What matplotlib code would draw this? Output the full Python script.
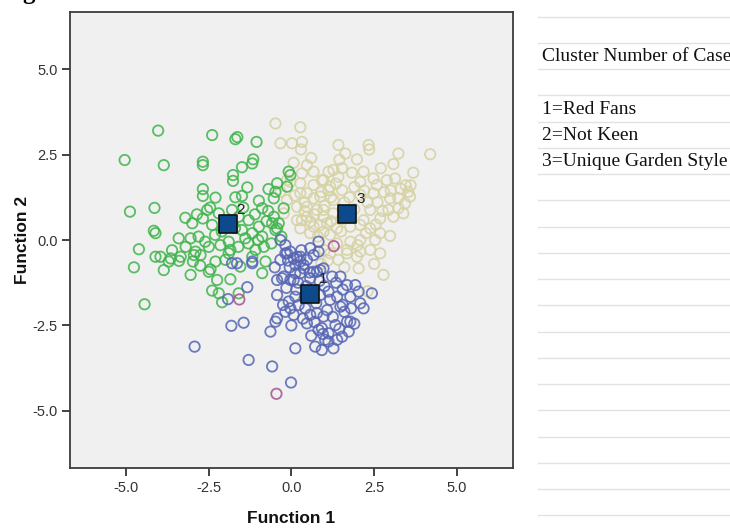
import numpy as np
import matplotlib
matplotlib.use('Agg')
import matplotlib.pyplot as plt
from matplotlib.lines import Line2D

plt.rcParams['font.family'] = ['Liberation Sans', 'DejaVu Sans']

# cluster 1 = Red Fans (blue), 2 = Not Keen (green), 3 = Unique Garden Style (tan)
green_pts = [(-4.02,3.20),(-2.39,3.07),(-1.69,2.95),(-1.63,3.01),(-1.05,2.87),(-5.03,2.34),(-3.85,2.19),(-2.67,2.29),
             (-2.67,2.19),(-1.49,2.13),(-1.18,2.24),(-1.15,2.36),(-1.76,1.90),(-1.76,1.73),(-2.67,1.49),(-2.67,1.29),
             (-2.29,1.24),(-1.33,1.54),(-1.69,1.25),(-1.49,1.29),(-0.69,1.49),(-0.48,1.41),(-0.98,1.15),(-0.88,0.93),
             (-4.87,0.83),(-4.13,0.94),(-4.15,0.27),(-4.10,0.20),(-4.60,-0.27),(-4.10,-0.49),
             (-2.99,0.49),(-2.67,0.63),(-2.54,0.88),(-2.39,0.44),(-2.19,0.78),(-1.79,0.88),(-1.59,0.68),(-1.29,0.58),
             (-1.49,0.29),(-1.18,0.20),(-0.98,0.39),(-0.88,0.10),(-0.58,0.49),(-0.48,0.29),(-0.83,-0.20),(-1.08,-0.29),
             (-1.39,0.05),(-3.04,0.05),(-3.19,-0.20),(-2.89,-0.34),(-2.49,-0.20),(-2.14,-0.15),(-1.89,-0.05),(-1.84,-0.29),
             (-3.95,-0.49),(-3.64,-0.54),(-3.34,-0.49),
             (-4.75,-0.80),(-3.85,-0.88),(-3.70,-0.63),(-3.39,-0.61),(-3.04,-1.02),(-2.97,-0.63),(-2.94,-0.44),(-2.74,-0.44),
             (-2.49,-0.93),(-2.44,-0.86),(-2.29,-0.63),(-1.99,-0.58),(-1.89,-0.39),(-2.24,-1.17),(-1.84,-1.15),(-2.39,-1.48),
             (-2.19,-1.56),(-2.09,-1.82),(-1.59,-1.56),(-4.43,-1.88),(-1.54,-0.78),(-1.18,-0.49),(-0.88,-0.97),(-0.78,-0.63),
             (-0.08,2.00),(-0.03,1.90),(-0.43,1.66),(-0.13,1.56),(-0.53,1.22),(-0.23,0.93),(-0.53,0.68),(-0.38,0.49),(-0.43,0.34),
             (-2.8,0.1),(-2.3,0.15),(-1.7,0.35),(-1.3,-0.1),(-2.6,-0.05),(-1.95,0.55),(-1.45,0.95),(-2.85,0.75),(-3.4,0.05),
             (-3.6,-0.3),(-1.1,0.75),(-0.7,0.85),(-0.75,0.55),(-0.3,0.1),(-0.6,-0.1),
             (-2.1,0.25),(-2.45,0.95),(-1.6,-0.2),(-2.75,-0.75),(-3.2,0.65),(-1.0,0.0)]

blue_pts = [(-0.13,-0.39),(0.07,-0.54),(0.27,-0.49),(0.47,-0.58),(0.67,-0.44),(0.82,-0.34),
            (-0.28,-1.12),(-0.03,-1.17),(0.12,-0.97),(0.37,-0.83),(0.67,-0.93),(0.87,-0.88),(1.23,-1.07),(1.48,-1.07),
            (1.68,-1.32),(1.93,-1.32),(2.03,-1.51),(2.43,-1.56),
            (-0.43,-1.61),(-0.08,-1.80),(0.12,-1.66),(0.22,-1.90),(0.87,-1.61),(1.12,-1.51),(1.17,-1.75),(1.38,-1.66),
            (1.78,-1.66),(2.08,-1.85),(2.18,-2.00),(1.48,-1.95),(1.08,-2.05),(0.77,-2.14),(0.97,-2.24),
            (-0.18,-2.10),(-0.43,-2.29),(-0.48,-2.39),(-0.63,-2.68),(-0.03,-2.00),(0.07,-2.19),(0.42,-2.00),(0.57,-2.19),
            (0.47,-2.44),(0.82,-2.63),(0.92,-2.58),(1.12,-2.73),(1.33,-2.49),(1.68,-2.39),(1.78,-2.39),(1.73,-2.68),
            (1.53,-2.83),(1.38,-2.92),(1.12,-2.97),(1.02,-2.92),(0.72,-3.12),(0.92,-3.22),(1.27,-3.17),
            (0.12,-3.17),(-0.58,-3.70),(-0.01,-4.17),
            (-1.79,-0.68),(-1.64,-0.68),(-1.18,-0.68),(-1.33,-1.38),(-1.91,-1.73),(-1.81,-2.51),(-1.44,-2.42),
            (-2.92,-3.12),(-1.29,-3.51),
            (-0.33,0.0),(-0.18,-0.15),(-0.03,-0.34),(0.17,-0.49),(0.27,-0.63),(0.37,-0.73),(0.12,-0.73),(-0.18,-0.39),
            (-0.33,-0.58),(-0.43,-1.17),(-0.23,-1.07),(0.07,-1.17),(0.27,-0.97),(0.57,-1.12),(0.77,-0.93),(0.97,-0.83),
            (0.57,-0.24),(0.82,-0.05),(-1.18,-0.63),
            (0.45,-1.35),(0.6,-1.6),(0.35,-2.3),(0.7,-2.4),(1.0,-1.35),(1.35,-1.25),(0.15,-1.45),(-0.15,-1.4),
            (1.6,-2.1),(1.9,-2.45),(0.55,-0.95),(-0.05,-0.8),(0.95,-2.75),(1.55,-1.9),
            (0.2,-1.25),(0.4,-1.7),(0.75,-1.85),(1.25,-2.25),(0.6,-2.8),(-0.25,-1.9),(0.0,-2.5),(1.55,-1.45),
            (0.85,-1.2),(-0.1,-0.6),(0.3,-0.3),(1.8,-2.0),(1.45,-2.6),(-0.5,-0.8)]

tan_pts = [(-0.48,3.41),(0.27,3.30),(-0.33,2.83),(0.02,2.83),(0.32,2.87),(0.29,2.65),(1.42,2.78),(1.63,2.53),
           (2.33,2.78),(2.35,2.65),(1.98,2.36),(3.23,2.53),(3.08,2.22),(4.19,2.51),(3.68,1.97),
           (0.07,2.26),(0.47,2.19),(0.32,1.95),(-0.03,1.70),(-0.33,1.41),
           (1.12,2.00),(1.53,2.10),(1.83,1.97),(2.18,2.00),(1.42,1.85),(0.97,1.75),(0.67,1.61),(1.12,1.46),(1.53,1.46),
           (2.08,1.70),(2.48,1.80),(2.58,1.61),(2.88,1.75),(3.13,1.80),(2.08,1.32),(2.48,1.37),
           (2.98,1.22),(3.23,1.22),(3.53,1.41),(3.58,1.27),(3.43,1.07),(3.23,0.93),(3.38,0.78),(3.08,0.68),(2.93,0.88),(2.68,0.63),
           (0.27,1.37),(0.67,1.22),(0.47,0.97),(0.77,0.88),(0.97,0.68),(1.27,0.78),(0.87,0.44),(0.57,0.54),(0.32,0.58),
           (0.27,0.34),(0.57,0.20),(0.97,0.24),(1.17,0.15),(1.38,0.34),(1.78,0.39),(2.08,0.44),(2.18,0.58),(2.38,0.88),
           (2.38,0.34),(2.68,0.20),(2.98,0.12),(2.53,0.0),(2.08,0.0),(1.78,-0.05),(1.38,-0.10),(1.68,-0.29),(2.08,-0.34),
           (2.38,-0.29),(2.68,-0.39),(1.98,-0.49),
           (1.17,-0.39),(1.42,-0.58),(1.68,-0.39),(2.03,-0.83),(2.78,-1.02),(2.3,-1.5),
           (-0.13,1.75),(0.27,1.66),(0.67,2.00),(0.92,1.75),(1.27,2.05),(1.17,1.56),(0.47,1.37),(0.87,1.27),(1.27,1.17),
           (-0.13,1.17),(0.17,0.97),(-0.23,0.78),(0.17,0.58),(0.47,0.68),(0.67,0.39),(1.08,0.49),(0.97,0.88),
           (1.9,0.9),(1.6,1.1),(2.3,1.1),(0.8,0.1),(1.5,0.6),(2.8,1.4),(3.3,1.5),(1.0,1.0),(1.9,1.55),
           (1.0,-0.3),(1.1,-0.6),(0.9,-0.7),
           (0.4,1.1),(0.9,1.4),(1.35,1.65),(1.75,1.25),(2.2,1.45),(2.6,1.1),(2.75,0.85),(3.0,1.45),(3.45,1.6),
           (1.5,0.25),(1.8,0.7),(2.25,0.2),(0.7,0.75),(1.2,0.55),(0.4,0.85),(2.55,0.45),(1.45,2.35),(0.6,2.4),
           (2.7,2.1),(3.6,1.6),(2.0,-0.15),(1.2,1.25),(0.1,1.3),(2.5,-0.7),(1.6,-0.8)]

ungrouped_pts = [(1.28,-0.18),(-1.57,-1.74),(-0.45,-4.50)]

centroid_labels = ['1', '2', '3']
centroid_x = [0.56, -1.92, 1.69]
centroid_y = [-1.58, 0.46, 0.76]

legend_title = 'Cluster Number of Case'
legend_items = ['1=Red Fans', '2=Not Keen', '3=Unique Garden Style']

fig = plt.figure(figsize=(7.3, 5.3), dpi=100)
ax = fig.add_axes([70/730, 1-468.3/530, 442.7/730, 456.6/530])
ax.set_facecolor('#f0f0f0')

def draw(pts, color):
    a = np.array(pts)
    ax.scatter(a[:, 0], a[:, 1], s=56, facecolors='none', edgecolors=color, linewidths=1.3, alpha=0.85, zorder=2)

draw(tan_pts, '#d6d2a2')
draw(green_pts, '#3fb44a')
draw(blue_pts, '#5565b5')
draw(ungrouped_pts, '#a8508f')

ax.scatter(centroid_x, centroid_y, s=150, marker='s', color='#0d4a8c', edgecolors='#111111', linewidths=1.2, zorder=4)
for lab, cx, cy in zip(centroid_labels, centroid_x, centroid_y):
    ax.annotate(lab, (cx, cy), xytext=(9.5, 10.5), textcoords='offset points',
                ha='center', va='center', fontsize=11, color='#222222', zorder=5)

ax.set_xlim(-6.68, 6.68)
ax.set_ylim(-6.68, 6.68)
ticks = [-5.0, -2.5, 0.0, 2.5, 5.0]
ax.set_xticks(ticks)
ax.set_yticks(ticks)
ax.set_xticklabels(['%.1f' % t for t in ticks])
ax.set_yticklabels(['%.1f' % t for t in ticks])
ax.tick_params(direction='out', length=6, width=1.3, color='#333333', labelsize=10.5, labelcolor='#333333', pad=3)
for sp in ax.spines.values():
    sp.set_color('#3c3c3c')
    sp.set_linewidth(1.3)

ax.set_xlabel('Function 1', fontsize=12.5, fontweight='bold', color='#111111', va='center')
ax.set_ylabel('Function 2', fontsize=12.5, fontweight='bold', color='#111111', va='center')
ax.xaxis.set_label_coords(0.5, -0.111)
ax.yaxis.set_label_coords(-0.108, 0.5)

# table-like legend on the right
for k in range(20):
    yy = 1 - (16.7 + 26.24 * k) / 530
    fig.add_artist(Line2D([538/730, 1.0], [yy, yy], color='#e2e2e2', linewidth=1.0))

fig.text(542/730, 1 - 56.3/530, legend_title, family='Liberation Serif', fontsize=14, va='center', color='#111111')
for i, item in enumerate(legend_items):
    fig.text(542/730, 1 - (109 + 26.24 * i)/530, item, family='Liberation Serif', fontsize=14, va='center', color='#111111')

# clipped caption letter at the very top
fig.text(22/730, 1 + 1/530, 'g', family='Liberation Serif', fontweight='bold', fontsize=18, va='baseline')

fig.savefig('out.png', dpi=100)
